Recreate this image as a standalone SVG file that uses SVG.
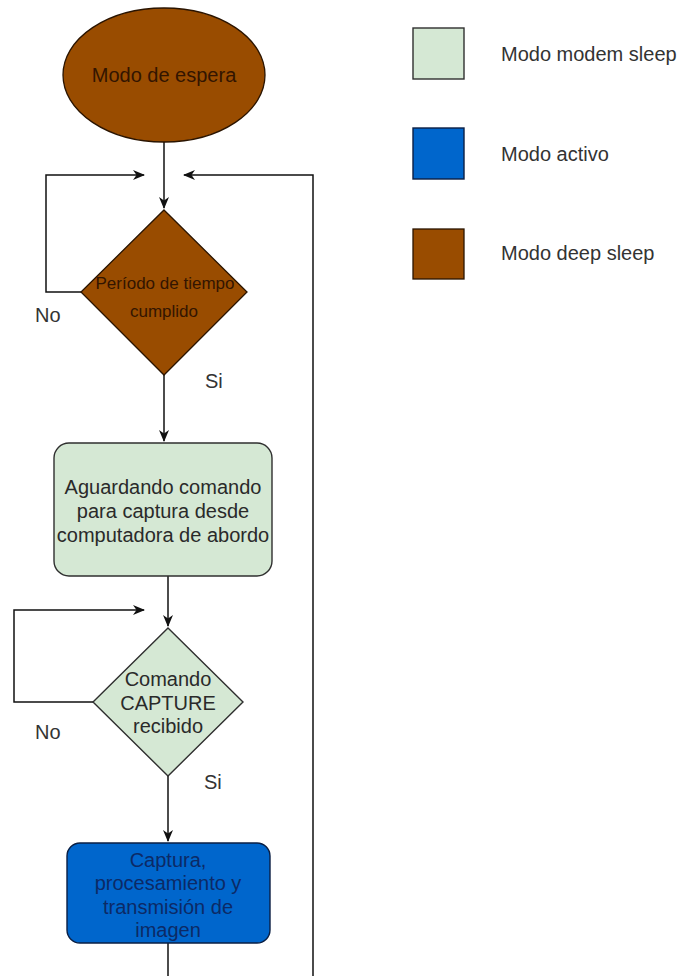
<svg xmlns="http://www.w3.org/2000/svg" width="680" height="976" viewBox="0 0 680 976">
  <style>
    text { font-family: "Liberation Sans", Arial, sans-serif; }
    .lbl { font-size: 20px; fill: #333333; }
    .deep { fill: #994c00; stroke: #2a1400; stroke-width: 1.3; }
    .modem { fill: #d5e8d4; stroke: #2f2f2f; stroke-width: 1.4; }
    .active { fill: #0066cc; stroke: #0a1f44; stroke-width: 1.4; }
    .t-deep { fill: #331500; text-anchor: middle; }
    .t-modem { fill: #2a2a2a; text-anchor: middle; font-size: 20px; }
    .t-active { fill: #0c2a66; text-anchor: middle; font-size: 20px; }
    .edge { fill: none; stroke: #111111; stroke-width: 1.5; }
  </style>
  <defs>
    <marker id="arrow" viewBox="0 0 12 10" refX="11" refY="5" markerWidth="12" markerHeight="10" markerUnits="userSpaceOnUse" orient="auto">
      <path d="M0,0 L12,5 L0,10 L3.5,5 z" fill="#111111"/>
    </marker>
  </defs>

  <rect width="680" height="976" fill="#ffffff"/>

  <!-- connectors -->
  <g id="connectors">
    <path class="edge" d="M164,142 L164,208" marker-end="url(#arrow)"/>
    <path class="edge" d="M81,292 L46,292 L46,175 L144,175" marker-end="url(#arrow)"/>
    <path class="edge" d="M313,976 L313,175 L184,175" marker-end="url(#arrow)"/>
    <path class="edge" d="M164,375 L164,441" marker-end="url(#arrow)"/>
    <path class="edge" d="M168,576 L168,626" marker-end="url(#arrow)"/>
    <path class="edge" d="M93,702 L14,702 L14,610 L144,610" marker-end="url(#arrow)"/>
    <path class="edge" d="M168,776 L168,841" marker-end="url(#arrow)"/>
    <path class="edge" d="M168,943 L168,976"/>
    <text class="lbl" x="35" y="322">No</text>
    <text class="lbl" x="205" y="388">Si</text>
    <text class="lbl" x="35" y="739">No</text>
    <text class="lbl" x="204" y="789">Si</text>
  </g>

  <!-- flow nodes -->
  <g id="start">
    <ellipse class="deep" cx="164" cy="75" rx="101" ry="67"/>
    <text class="t-deep" x="164" y="82" font-size="20">Modo de espera</text>
  </g>

  <g id="timer-check">
    <polygon class="deep" points="164,210 247,292 164,375 81,292"/>
    <text class="t-deep" x="165" y="289" font-size="17">Período de tiempo</text>
    <text class="t-deep" x="164" y="317" font-size="17">cumplido</text>
  </g>

  <g id="await-command">
    <rect class="modem" x="54" y="443" width="218" height="133" rx="15" ry="15"/>
    <text class="t-modem" x="163" y="494">Aguardando comando</text>
    <text class="t-modem" x="163" y="518">para captura desde</text>
    <text class="t-modem" x="163" y="542">computadora de abordo</text>
  </g>

  <g id="capture-check">
    <polygon class="modem" points="168,628 243,702 168,776 93,702"/>
    <text class="t-modem" x="168" y="686">Comando</text>
    <text class="t-modem" x="168" y="710">CAPTURE</text>
    <text class="t-modem" x="168" y="733">recibido</text>
  </g>

  <g id="capture-process">
    <rect class="active" x="67" y="843" width="203" height="100" rx="13" ry="13"/>
    <text class="t-active" x="168" y="867">Captura,</text>
    <text class="t-active" x="168" y="890">procesamiento y</text>
    <text class="t-active" x="168" y="914">transmisión de</text>
    <text class="t-active" x="168" y="937">imagen</text>
  </g>

  <!-- legend -->
  <g id="legend-modem">
    <rect class="modem" x="413" y="28" width="51" height="51"/>
    <text class="lbl" x="501" y="61">Modo modem sleep</text>
  </g>
  <g id="legend-active">
    <rect class="active" x="413" y="128" width="51" height="51"/>
    <text class="lbl" x="501" y="161">Modo activo</text>
  </g>
  <g id="legend-deep">
    <rect class="deep" x="413" y="229" width="51" height="50"/>
    <text class="lbl" x="501" y="260">Modo deep sleep</text>
  </g>
</svg>
